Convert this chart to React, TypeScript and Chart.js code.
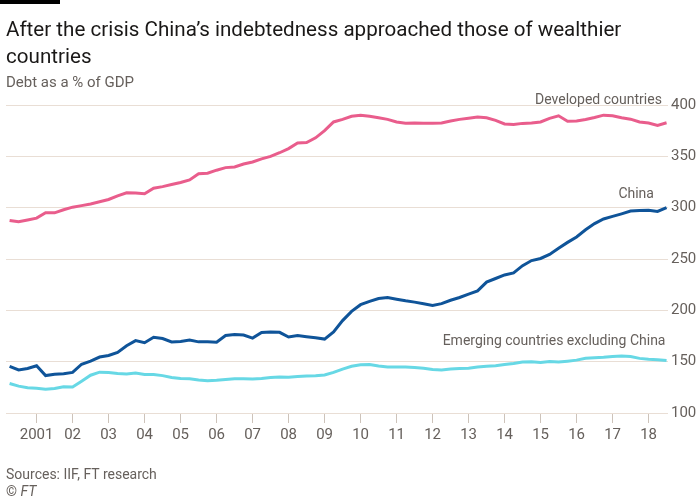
import React, { useEffect, useRef } from "react";
import { Chart, registerables } from "chart.js";

Chart.register(...registerables);

// Quarterly observations, 2000 Q1 – 2018 Q2 (plotted at quarter end)
const startYear = 2000.25;
const quarterStep = 0.25;

const developed = [
  287.6, 286.2, 288, 289.8, 295, 295, 298, 300.5, 302, 303.5,
  305.7, 308, 311.5, 314.5, 314.3, 313.5, 319, 320.5, 322.5, 324.5,
  327, 333, 333.5, 336.5, 339, 339.7, 342.5, 344.5, 347.5, 350,
  353.5, 357.5, 363, 363.5, 368, 375, 383.5, 386, 389, 390,
  389, 387.5, 386, 383.5, 382.3, 382.5, 382.2, 382.2, 382.5, 384.5,
  386, 387.2, 388.2, 387.5, 385, 381.5, 381, 382.1, 382.4, 383.5,
  387, 389.5, 384.2, 384.5, 385.8, 387.8, 390.1, 389.5, 387.5, 386.2,
  383.5, 382.5, 380.2, 382.7,
];

const china = [
  145.5, 142, 143.3, 146, 136.5, 137.8, 138.3, 139.5, 147.5, 150.6,
  154.5, 156, 159, 165.5, 170.5, 168.5, 173.8, 172.5, 169.2, 169.7,
  171, 169.3, 169.5, 169, 175.5, 176.5, 176, 173, 178.5, 179,
  178.6, 174, 175.5, 174.3, 173.2, 172, 179, 190, 199, 205.5,
  208.7, 211.5, 212.5, 210.8, 209.3, 208, 206.5, 204.8, 206.5, 209.8,
  212.5, 215.8, 219, 227.5, 231, 234.5, 236.5, 243.5, 248.5, 250.5,
  254.5, 260.5, 266.2, 271.5, 278.5, 284.5, 289, 291.5, 294, 296.7,
  297.2, 297.5, 296.3, 300,
];

const emerging = [
  128.7, 126.2, 124.5, 124.1, 123.2, 123.8, 125.5, 125.4, 131, 136.8,
  139.8, 139.5, 138.5, 138.1, 138.9, 137.6, 137.4, 136.4, 134.5, 133.6,
  133.3, 132.2, 131.3, 131.8, 132.7, 133.4, 133.3, 133, 133.6, 134.5,
  135, 134.9, 135.6, 136.1, 136.3, 137, 139.5, 142.8, 145.5, 147,
  147.2, 145.8, 144.9, 144.9, 144.7, 144.2, 143.5, 142.4, 142, 142.8,
  143.3, 143.6, 144.8, 145.6, 146.1, 147.2, 148.3, 149.6, 150, 149.3,
  150.1, 149.6, 150.5, 151.5, 153.3, 153.8, 154.3, 155, 155.4, 155,
  153.2, 152.3, 151.8, 151.1,
];

const tickYears = [
  2001, 2002, 2003, 2004, 2005, 2006, 2007, 2008, 2009,
  2010, 2011, 2012, 2013, 2014, 2015, 2016, 2017, 2018,
];
const tickLabels = [
  "2001", "02", "03", "04", "05", "06", "07", "08", "09",
  "10", "11", "12", "13", "14", "15", "16", "17", "18",
];
const yTicks = [100, 150, 200, 250, 300, 350, 400];

const seriesLabels = [
  { text: "Developed countries", x: 2018.37, y: 404.6 },
  { text: "China", x: 2018.15, y: 312.9 },
  { text: "Emerging countries excluding China", x: 2018.47, y: 169.2 },
];

const FONT = "Roboto, 'Open Sans', sans-serif";
const GREY = "#66605c";

const toPoints = (arr: number[]) =>
  arr.map((v, i) => ({ x: startYear + i * quarterStep, y: v }));

const labelPlugin = {
  id: "seriesLabels",
  afterDatasetsDraw(chart: any) {
    const { ctx, scales } = chart;
    ctx.save();
    ctx.font = `14px ${FONT}`;
    ctx.fillStyle = GREY;
    ctx.textAlign = "right";
    ctx.textBaseline = "middle";
    seriesLabels.forEach((l) => {
      ctx.fillText(l.text, scales.x.getPixelForValue(l.x), scales.y.getPixelForValue(l.y));
    });
    ctx.restore();
  },
};

export default function App() {
  const ref = useRef<HTMLCanvasElement>(null);

  useEffect(() => {
    if (!ref.current) return;
    const chart = new Chart(ref.current, {
      type: "line",
      data: {
        datasets: [
          {
            label: "Developed countries",
            data: toPoints(developed),
            borderColor: "#e95d8c",
            borderWidth: 3,
            pointRadius: 0,
            tension: 0,
          },
          {
            label: "China",
            data: toPoints(china),
            borderColor: "#0f5499",
            borderWidth: 3,
            pointRadius: 0,
            tension: 0,
          },
          {
            label: "Emerging countries excluding China",
            data: toPoints(emerging),
            borderColor: "#67d8e5",
            borderWidth: 3,
            pointRadius: 0,
            tension: 0,
          },
        ],
      },
      options: {
        animation: false,
        responsive: false,
        devicePixelRatio: 1,
        layout: { padding: { left: 6, top: 105, right: 0, bottom: 55 } },
        plugins: { legend: { display: false }, tooltip: { enabled: false } },
        scales: {
          x: {
            type: "linear",
            min: 2000.15,
            max: 2018.54,
            afterBuildTicks: (scale: any) => {
              scale.ticks = tickYears.map((v) => ({ value: v }));
            },
            afterFit: (scale: any) => {
              scale.height = 32;
            },
            ticks: {
              autoSkip: false,
              maxRotation: 0,
              padding: 3,
              color: GREY,
              font: { family: FONT, size: 15 },
              callback: (v: any) => {
                const i = tickYears.indexOf(Number(v));
                return i >= 0 ? tickLabels[i] : "";
              },
            },
            grid: {
              drawOnChartArea: false,
              drawTicks: true,
              tickLength: 10,
              color: "#cdc3ba",
            },
            border: { display: false },
          },
          y: {
            position: "right",
            min: 100,
            max: 400,
            afterBuildTicks: (scale: any) => {
              scale.ticks = yTicks.map((v) => ({ value: v }));
            },
            afterFit: (scale: any) => {
              scale.width = 32;
            },
            ticks: {
              padding: 3,
              color: GREY,
              font: { family: FONT, size: 15 },
            },
            grid: { drawTicks: false, color: "#e9ded5" },
            border: { display: false },
          },
        },
      },
      plugins: [labelPlugin],
    });
    return () => chart.destroy();
  }, []);

  return (
    <div
      style={{
        position: "absolute",
        left: 0,
        top: 0,
        width: 700,
        height: 500,
        background: "#ffffff",
        fontFamily: FONT,
        overflow: "hidden",
      }}
    >
      <canvas ref={ref} width={700} height={500} style={{ position: "absolute", left: 0, top: 0 }} />
      <div style={{ position: "absolute", left: 0, top: 0, width: 60, height: 4, background: "#000" }} />
      <div
        style={{
          position: "absolute",
          left: 6,
          top: 16,
          width: 670,
          fontSize: 20.6,
          lineHeight: "27px",
          color: "#1a1817",
        }}
      >
        After the crisis China’s indebtedness approached those of wealthier countries
      </div>
      <div
        style={{
          position: "absolute",
          left: 6,
          top: 72,
          fontSize: 15,
          lineHeight: "20px",
          color: GREY,
        }}
      >
        Debt as a % of GDP
      </div>
      <div
        style={{
          position: "absolute",
          left: 6,
          top: 466,
          fontSize: 14,
          lineHeight: "17px",
          color: GREY,
        }}
      >
        <div>Sources: IIF, FT research</div>
        <div>
          © <i>FT</i>
        </div>
      </div>
    </div>
  );
}
